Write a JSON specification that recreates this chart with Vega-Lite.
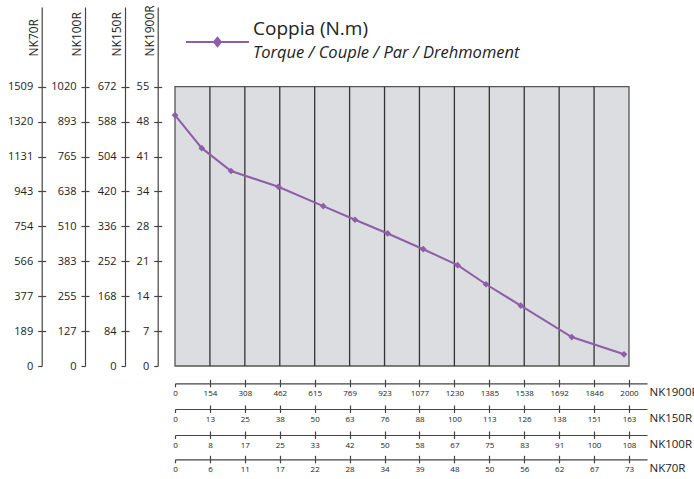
{
  "$schema": "https://vega.github.io/schema/vega-lite/v6.json",
  "width": 472,
  "height": 359,
  "autosize": {"type": "none"},
  "padding": {"left": 175, "top": 7, "right": 47, "bottom": 113},
  "background": "white",
  "title": {
    "text": "Coppia (N.m)",
    "subtitle": "Torque / Couple / Par / Drehmoment",
    "anchor": "start",
    "frame": "group",
    "orient": "top",
    "offset": 0,
    "dx": 78,
    "dy": 57,
    "font": "Open Sans",
    "fontSize": 19,
    "fontWeight": "normal",
    "color": "#222",
    "subtitleFont": "Open Sans",
    "subtitleFontSize": 16.5,
    "subtitleFontStyle": "italic",
    "subtitleColor": "#222",
    "subtitlePadding": 6
  },
  "datasets": {
    "torque": [
      {"rpm": 0, "torque": 49.4},
      {"rpm": 118, "torque": 42.9},
      {"rpm": 247, "torque": 38.4},
      {"rpm": 455, "torque": 35.3},
      {"rpm": 653, "torque": 31.5},
      {"rpm": 793, "torque": 28.8},
      {"rpm": 937, "torque": 26.1},
      {"rpm": 1094, "torque": 23.0},
      {"rpm": 1245, "torque": 19.85},
      {"rpm": 1370, "torque": 16.1},
      {"rpm": 1523, "torque": 11.9},
      {"rpm": 1748, "torque": 5.7},
      {"rpm": 1978, "torque": 2.3}
    ],
    "frame": [{"rpm_start": 0, "rpm_end": 2000, "t_min": 0, "t_max": 55}],
    "grid": [
      {"rpm": 153.85}, {"rpm": 307.69}, {"rpm": 461.54}, {"rpm": 615.38},
      {"rpm": 769.23}, {"rpm": 923.08}, {"rpm": 1076.92}, {"rpm": 1230.77},
      {"rpm": 1384.62}, {"rpm": 1538.46}, {"rpm": 1692.31}, {"rpm": 1846.15}
    ]
  },
  "resolve": {"axis": {"x": "independent", "y": "independent"}},
  "layer": [
    {
      "data": {"name": "frame"},
      "mark": {"type": "rect", "fill": "#dcdde0", "stroke": "#555", "strokeWidth": 1.3},
      "encoding": {
        "x": {"field": "rpm_start", "type": "quantitative", "scale": {"domain": [0, 2079.3], "nice": false, "zero": false},
          "axis": {"orient": "bottom", "offset": 17.3, "title": "NK1900R",
            "values": [0, 153.846, 307.692, 461.538, 615.385, 769.231, 923.077, 1076.923, 1230.769, 1384.615, 1538.462, 1692.308, 1846.154, 2000],
            "labelExpr": "['0','154','308','462','615','769','923','1077','1230','1385','1538','1692','1846','2000'][round(datum.value*13/2000)]"}},
        "x2": {"field": "rpm_end"},
        "y": {"field": "t_min", "type": "quantitative", "scale": {"domain": [0, 70.7], "nice": false, "zero": false},
          "axis": {"orient": "left", "offset": 17.3, "title": "NK1900R",
            "values": [0, 6.875, 13.75, 20.625, 27.5, 34.375, 41.25, 48.125, 55],
            "labelExpr": "['0','7','14','21','28','34','41','48','55'][round(datum.value/6.875)]"}},
        "y2": {"field": "t_max"}
      }
    },
    {
      "data": {"name": "grid"},
      "mark": {"type": "rule", "color": "#333", "strokeWidth": 1.3},
      "encoding": {
        "x": {"field": "rpm", "type": "quantitative", "scale": {"domain": [0, 2079.3], "nice": false, "zero": false},
          "axis": {"orient": "bottom", "offset": 43, "title": "NK150R",
            "values": [0, 153.846, 307.692, 461.538, 615.385, 769.231, 923.077, 1076.923, 1230.769, 1384.615, 1538.462, 1692.308, 1846.154, 2000],
            "labelExpr": "['0','13','25','38','50','63','76','88','100','113','126','138','151','163'][round(datum.value*13/2000)]"}},
        "y": {"datum": 0, "type": "quantitative", "scale": {"domain": [0, 70.7], "nice": false, "zero": false},
          "axis": {"orient": "left", "offset": 50, "title": "NK150R",
            "values": [0, 6.875, 13.75, 20.625, 27.5, 34.375, 41.25, 48.125, 55],
            "labelExpr": "['0','84','168','252','336','420','504','588','672'][round(datum.value/6.875)]"}},
        "y2": {"datum": 55}
      }
    },
    {
      "data": {"name": "torque"},
      "mark": {"type": "line", "color": "#8e5ea9", "strokeWidth": 2},
      "encoding": {
        "x": {"field": "rpm", "type": "quantitative", "scale": {"domain": [0, 2079.3], "nice": false, "zero": false},
          "axis": {"orient": "bottom", "offset": 69, "title": "NK100R",
            "values": [0, 153.846, 307.692, 461.538, 615.385, 769.231, 923.077, 1076.923, 1230.769, 1384.615, 1538.462, 1692.308, 1846.154, 2000],
            "labelExpr": "['0','8','17','25','33','42','50','58','67','75','83','91','100','108'][round(datum.value*13/2000)]"}},
        "y": {"field": "torque", "type": "quantitative", "scale": {"domain": [0, 70.7], "nice": false, "zero": false},
          "axis": {"orient": "left", "offset": 90, "title": "NK100R",
            "values": [0, 6.875, 13.75, 20.625, 27.5, 34.375, 41.25, 48.125, 55],
            "labelExpr": "['0','127','255','383','510','638','765','893','1020'][round(datum.value/6.875)]"}}
      }
    },
    {
      "data": {"name": "torque"},
      "mark": {"type": "point", "shape": "diamond", "filled": true, "size": 45, "opacity": 1},
      "encoding": {
        "x": {"field": "rpm", "type": "quantitative", "scale": {"domain": [0, 2079.3], "nice": false, "zero": false},
          "axis": {"orient": "bottom", "offset": 93.3, "title": "NK70R",
            "values": [0, 153.846, 307.692, 461.538, 615.385, 769.231, 923.077, 1076.923, 1230.769, 1384.615, 1538.462, 1692.308, 1846.154, 2000],
            "labelExpr": "['0','6','11','17','22','28','34','39','48','50','56','62','67','73'][round(datum.value*13/2000)]"}},
        "y": {"field": "torque", "type": "quantitative", "scale": {"domain": [0, 70.7], "nice": false, "zero": false},
          "axis": {"orient": "left", "offset": 133.3, "title": "NK70R",
            "values": [0, 6.875, 13.75, 20.625, 27.5, 34.375, 41.25, 48.125, 55],
            "labelExpr": "['0','189','377','566','754','943','1131','1320','1509'][round(datum.value/6.875)]"}},
        "color": {"datum": "Coppia (N.m)", "type": "nominal", "scale": {"range": ["#8e5ea9"]},
          "legend": {"orient": "none", "legendX": 10, "legendY": 2.5, "title": null, "labelExpr": "''",
            "symbolType": "M-1,0L1,0M0,-0.13L0.11,0L0,0.13L-0.11,0Z", "symbolSize": 3969,
            "symbolStrokeWidth": 2, "symbolStrokeColor": "#8e5ea9", "symbolFillColor": "#8e5ea9", "padding": 0, "labelFontSize": 1}}
      }
    },
    {
      "data": {"name": "torque"},
      "mark": {"type": "point", "opacity": 0},
      "encoding": {
        "x": {"field": "rpm", "type": "quantitative", "scale": {"domain": [0, 2079.3], "nice": false, "zero": false},
          "axis": {"orient": "bottom", "offset": 17.3, "title": null, "labels": false, "domain": false, "tickSize": -4,
            "values": [153.846, 307.692, 461.538, 615.385, 769.231, 923.077, 1076.923, 1230.769, 1384.615, 1538.462, 1692.308, 1846.154, 2000]}},
        "y": {"field": "torque", "type": "quantitative", "scale": {"domain": [0, 70.7], "nice": false, "zero": false},
          "axis": {"orient": "left", "offset": 17.3, "title": null, "labels": false, "domain": false, "tickSize": -4,
            "values": [6.875, 13.75, 20.625, 27.5, 34.375, 41.25, 48.125, 55]}}
      }
    },
    {
      "data": {"name": "torque"},
      "mark": {"type": "point", "opacity": 0},
      "encoding": {
        "x": {"field": "rpm", "type": "quantitative", "scale": {"domain": [0, 2079.3], "nice": false, "zero": false},
          "axis": {"orient": "bottom", "offset": 43, "title": null, "labels": false, "domain": false, "tickSize": -4,
            "values": [153.846, 307.692, 461.538, 615.385, 769.231, 923.077, 1076.923, 1230.769, 1384.615, 1538.462, 1692.308, 1846.154, 2000]}},
        "y": {"field": "torque", "type": "quantitative", "scale": {"domain": [0, 70.7], "nice": false, "zero": false},
          "axis": {"orient": "left", "offset": 50, "title": null, "labels": false, "domain": false, "tickSize": -4,
            "values": [6.875, 13.75, 20.625, 27.5, 34.375, 41.25, 48.125, 55]}}
      }
    },
    {
      "data": {"name": "torque"},
      "mark": {"type": "point", "opacity": 0},
      "encoding": {
        "x": {"field": "rpm", "type": "quantitative", "scale": {"domain": [0, 2079.3], "nice": false, "zero": false},
          "axis": {"orient": "bottom", "offset": 69, "title": null, "labels": false, "domain": false, "tickSize": -4,
            "values": [153.846, 307.692, 461.538, 615.385, 769.231, 923.077, 1076.923, 1230.769, 1384.615, 1538.462, 1692.308, 1846.154, 2000]}},
        "y": {"field": "torque", "type": "quantitative", "scale": {"domain": [0, 70.7], "nice": false, "zero": false},
          "axis": {"orient": "left", "offset": 90, "title": null, "labels": false, "domain": false, "tickSize": -4,
            "values": [6.875, 13.75, 20.625, 27.5, 34.375, 41.25, 48.125, 55]}}
      }
    },
    {
      "data": {"name": "torque"},
      "mark": {"type": "point", "opacity": 0},
      "encoding": {
        "x": {"field": "rpm", "type": "quantitative", "scale": {"domain": [0, 2079.3], "nice": false, "zero": false},
          "axis": {"orient": "bottom", "offset": 93.3, "title": null, "labels": false, "domain": false, "tickSize": -4,
            "values": [153.846, 307.692, 461.538, 615.385, 769.231, 923.077, 1076.923, 1230.769, 1384.615, 1538.462, 1692.308, 1846.154, 2000]}},
        "y": {"field": "torque", "type": "quantitative", "scale": {"domain": [0, 70.7], "nice": false, "zero": false},
          "axis": {"orient": "left", "offset": 133.3, "title": null, "labels": false, "domain": false, "tickSize": -4,
            "values": [6.875, 13.75, 20.625, 27.5, 34.375, 41.25, 48.125, 55]}}
      }
    }
  ],
  "config": {
    "view": {"stroke": null},
    "axis": {
      "grid": false,
      "labelFont": "Open Sans",
      "titleFont": "Open Sans",
      "labelColor": "#222",
      "titleColor": "#222",
      "titleFontWeight": "normal",
      "domainColor": "#444",
      "tickColor": "#444",
      "domainWidth": 1.2,
      "tickWidth": 1.2,
      "labelFlush": false,
      "labelOverlap": false
    },
    "axisLeft": {
      "labelFontSize": 11,
      "titleFontSize": 12,
      "labelPadding": 5,
      "tickSize": 4,
      "titleAngle": 270,
      "titleAlign": "left",
      "titleBaseline": "alphabetic",
      "titleX": -4.5,
      "titleY": 49
    },
    "axisBottom": {
      "labelFontSize": 8,
      "titleFontSize": 11.5,
      "labelPadding": 2.5,
      "tickSize": 3.5,
      "titleAngle": 0,
      "titleAlign": "left",
      "titleBaseline": "alphabetic",
      "titleX": 474,
      "titleY": 12.5
    }
  }
}
